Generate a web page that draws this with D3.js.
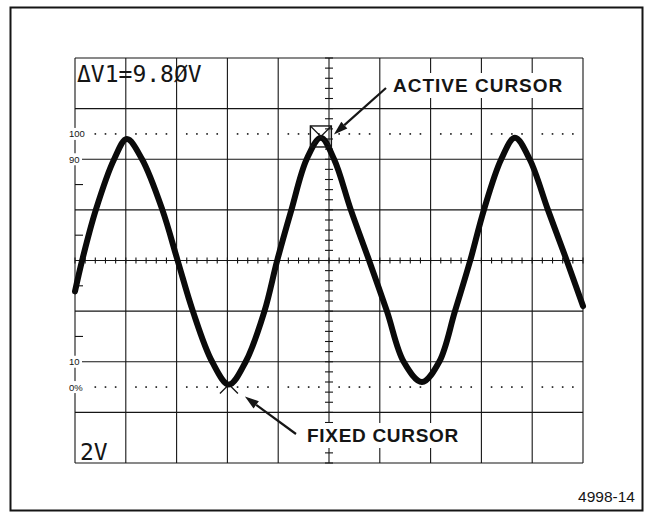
<!DOCTYPE html>
<html lang="en">
<head>
  <meta charset="UTF-8">
  <title>Cursor measurement</title>
  <script src="https://d3js.org/d3.v7.min.js"></script>
</head>
<style>
  body{
    margin:0;
    background:#fff;
  }
  svg{
    display:block;
    font-family: "Liberation Sans", Arial, Helvetica, sans-serif;
  }
</style>
<body>
  <div id="chart"></div>
</body>
<script>
// waveform: x in divisions, y in volts (2 V/div)
var waveX = [0, 0.14, 0.41, 0.77, 1.02, 1.32, 1.72, 2.02, 2.32, 2.70, 3.03, 3.36, 3.73, 3.98,
             4.26, 4.56, 4.84, 5.10, 5.43, 5.79, 6.14, 6.47, 6.83, 7.17, 7.48, 7.78, 8.05,
             8.39, 8.66, 8.95, 9.31, 9.68, 10];
var waveV = [-1.22, 0, 2.0, 4.0, 4.8, 4.0, 2.0, 0, -2.0, -4.0, -4.9, -4.0, -2.0, 0,
             2.0, 4.0, 4.85, 4.0, 2.0, 0, -2.0, -4.0, -4.8, -4.0, -2.0, 0, 2.0,
             4.0, 4.85, 4.0, 2.0, 0, -1.8];

// the two cursors
var cursorNames = ["FIXED CURSOR", "ACTIVE CURSOR"];
var cursorX = [3.03, 4.84];
var cursorV = [-4.9, 4.9];

// screen readouts
var readout = "\u0394V1=9.8\u00D8V";
var scaleLabel = "2V";
var figureId = "4998-14";

// rise time reference marks on the left edge
var refLabels = ["100", "90", "10", "0%"];
var refLevels = [5, 4, -4, -5];

var width = 648, height = 512;

var svg = d3.select("#chart").append("svg")
  .attr("width", width)
  .attr("height", height);

// 10 x 8 graticule
var x = d3.scaleLinear().domain([0, 10]).range([75, 583]);
var y = d3.scaleLinear().domain([-8, 8]).range([463, 58]);

var ink = "#151515";

// outer frame
svg.append("rect")
  .attr("x", 10.5).attr("y", 7.5)
  .attr("width", 632).attr("height", 503)
  .attr("fill", "none")
  .attr("stroke", ink)
  .attr("stroke-width", 2);

var grid = svg.append("g").attr("stroke", ink).attr("stroke-width", 1.1);

// vertical division lines
grid.selectAll(".vline")
  .data(d3.range(0, 11))
  .enter().append("line")
    .attr("x1", function(d){ return x(d); })
    .attr("x2", function(d){ return x(d); })
    .attr("y1", y(8)).attr("y2", y(-8));

// horizontal division lines
grid.selectAll(".hline")
  .data(d3.range(-8, 9, 2))
  .enter().append("line")
    .attr("y1", function(d){ return y(d); })
    .attr("y2", function(d){ return y(d); })
    .attr("x1", x(0)).attr("x2", x(10));

// minor ticks on the centre lines (5 per division)
grid.selectAll(".xminor")
  .data(d3.range(0, 10.01, 0.2))
  .enter().append("line")
    .attr("x1", function(d){ return x(d); })
    .attr("x2", function(d){ return x(d); })
    .attr("y1", y(0) - 3).attr("y2", y(0) + 3);

grid.selectAll(".yminor")
  .data(d3.range(-8, 8.01, 0.4))
  .enter().append("line")
    .attr("y1", function(d){ return y(d); })
    .attr("y2", function(d){ return y(d); })
    .attr("x1", x(5) - 4).attr("x2", x(5) + 4);

// half division ticks on the left edge
grid.selectAll(".edge")
  .data([3, 1, -1, -3])
  .enter().append("line")
    .attr("y1", function(d){ return y(d); })
    .attr("y2", function(d){ return y(d); })
    .attr("x1", x(0)).attr("x2", x(0) + 8);

// dotted 0% and 100% lines
var dotX = d3.range(0.4, 10, 0.2).filter(function(d){
  return Math.abs(d - Math.round(d)) > 0.01;
});
[refLevels[0], refLevels[3]].forEach(function(level){
  svg.append("g").selectAll("rect")
    .data(dotX)
    .enter().append("rect")
      .attr("x", function(d){ return x(d) - 0.8; })
      .attr("y", y(level) - 0.8)
      .attr("width", 1.6).attr("height", 1.6)
      .attr("fill", ink);
});

// reference labels sit on the left edge with a white patch behind
var refG = svg.append("g");
refLabels.forEach(function(lab, i){
  refG.append("rect")
    .attr("x", 67).attr("y", y(refLevels[i]) - 6)
    .attr("width", lab.length > 2 ? 20 : 15).attr("height", 12)
    .attr("fill", "#fff");
});
refLabels.forEach(function(lab, i){
  refG.append("text")
    .attr("x", 69)
    .attr("y", y(refLevels[i]) + 3.5)
    .attr("font-size", "9.5px")
    .attr("fill", ink)
    .text(lab);
});

// fixed cursor cross (under the trace)
var fx = x(cursorX[0]), fy = y(cursorV[0]);
svg.append("path")
  .attr("d", "M" + (fx - 9) + "," + (fy - 9) + "L" + (fx + 9) + "," + (fy + 9) +
             "M" + (fx + 9) + "," + (fy - 9) + "L" + (fx - 9) + "," + (fy + 9))
  .attr("stroke", ink).attr("stroke-width", 1.3).attr("fill", "none");

// trace
var wave = waveX.map(function(d, i){ return [d, waveV[i]]; });
var line = d3.line()
  .x(function(d){ return x(d[0]); })
  .y(function(d){ return y(d[1]); })
  .curve(d3.curveCatmullRom.alpha(0.5));

svg.append("path")
  .datum(wave)
  .attr("d", line)
  .attr("fill", "none")
  .attr("stroke", "#0a0a0a")
  .attr("stroke-width", 6)
  .attr("stroke-linecap", "round")
  .attr("stroke-linejoin", "round");

// active cursor box with an X in it
var ax = x(cursorX[1]), ay = y(cursorV[1]);
svg.append("rect")
  .attr("x", ax - 10.5).attr("y", ay - 10.5)
  .attr("width", 21).attr("height", 21)
  .attr("fill", "none").attr("stroke", ink).attr("stroke-width", 1.4);
svg.append("path")
  .attr("d", "M" + (ax - 10.5) + "," + (ay - 10.5) + "L" + (ax + 10.5) + "," + (ay + 10.5) +
             "M" + (ax + 10.5) + "," + (ay - 10.5) + "L" + (ax - 10.5) + "," + (ay + 10.5))
  .attr("stroke", ink).attr("stroke-width", 1.2).attr("fill", "none");

// callout labels with white backing
function callout(label, tx, ty, spacing){
  var g = svg.append("g");
  var bg = g.append("rect").attr("fill", "#fff");
  var t = g.append("text")
    .attr("x", tx).attr("y", ty)
    .attr("font-size", "19px")
    .attr("font-weight", "bold")
    .attr("letter-spacing", spacing)
    .attr("fill", ink)
    .text(label);
  var b = t.node().getBBox();
  bg.attr("x", b.x - 8).attr("y", b.y - 2)
    .attr("width", b.width + 14).attr("height", b.height + 4);
}
callout(cursorNames[1], 393, 92, "1px");
callout(cursorNames[0], 307, 442, "0.7px");

// arrows pointing at the cursors
function arrow(x1, y1, x2, y2){
  var ang = Math.atan2(y2 - y1, x2 - x1);
  var len = 14, half = 4.5;
  var bx = x2 - len * Math.cos(ang), by = y2 - len * Math.sin(ang);
  svg.append("line")
    .attr("x1", x1).attr("y1", y1).attr("x2", bx).attr("y2", by)
    .attr("stroke", ink).attr("stroke-width", 2.2);
  svg.append("path")
    .attr("d", "M" + x2 + "," + y2 +
      "L" + (bx + half * Math.sin(ang)) + "," + (by - half * Math.cos(ang)) +
      "L" + (bx - half * Math.sin(ang)) + "," + (by + half * Math.cos(ang)) + "Z")
    .attr("fill", ink);
}
arrow(386, 88, ax + 13, ay - 2);
arrow(296, 434, fx + 16, fy + 12);

// CRT readouts
svg.append("text")
  .attr("x", 77).attr("y", 82)
  .attr("font-family", "'DejaVu Sans Mono', monospace")
  .attr("font-size", "23px")
  .attr("fill", ink)
  .text(readout);

svg.append("text")
  .attr("x", 80).attr("y", 460)
  .attr("font-family", "'DejaVu Sans Mono', monospace")
  .attr("font-size", "23px")
  .attr("fill", ink)
  .text(scaleLabel);

// figure number
svg.append("text")
  .attr("x", 635).attr("y", 502)
  .attr("text-anchor", "end")
  .attr("font-size", "15.5px")
  .attr("fill", ink)
  .text(figureId);
</script>
</html>
